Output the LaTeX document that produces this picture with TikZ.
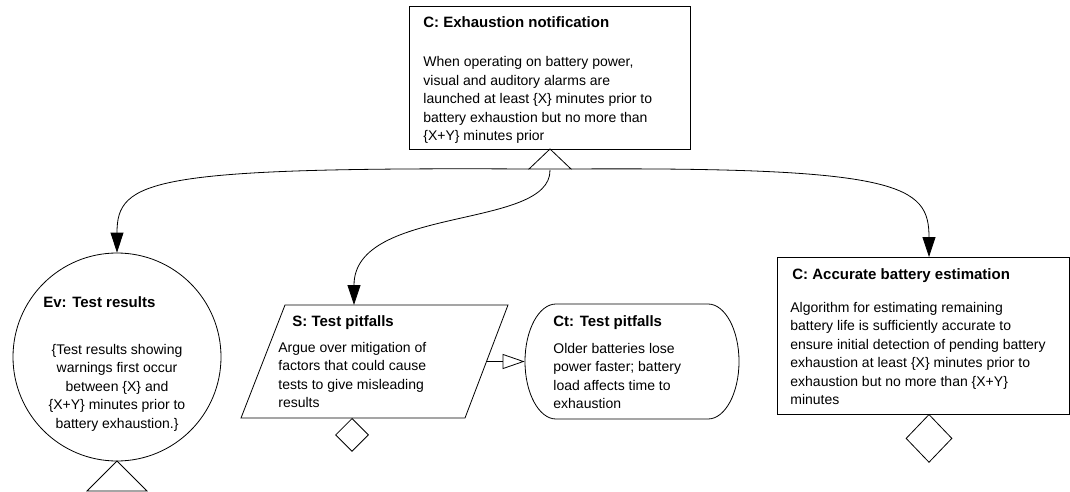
\documentclass[tikz,border=0pt]{standalone}
\usepackage{fontspec}
\setmainfont{Liberation Sans}
\usetikzlibrary{arrows.meta,shapes.geometric}
\newcommand\mlines[2]{\begin{tabular}[t]{@{}#1@{}}#2\end{tabular}}
\begin{document}
\begin{tikzpicture}[x=1pt,y=-1pt,line width=0.8pt,
  ttl/.style={anchor=base west,inner sep=0pt,font=\fontsize{15}{18}\selectfont\bfseries},
  bdy/.style={anchor=base west,inner sep=0pt,font=\fontsize{14}{18.5}\selectfont},
  bdyc/.style={anchor=base,inner sep=0pt,font=\fontsize{14}{18.5}\selectfont},
  boxed/.style={draw,rectangle,inner sep=0pt},
  arr/.style={-{Triangle[length=20pt,width=13pt]}},
  openarr/.style={-{Triangle[open,fill=white,length=22pt,width=15pt]}},
  dia/.style={draw,diamond,inner sep=0pt}]
\useasboundingbox (0,0) rectangle (1070,492);
% top goal
\node[boxed,minimum width=281pt,minimum height=143pt] (c1) at (549.5,77.5) {};
\node[ttl] (c1t) at (423,28) {C: Exhaustion notification};
\node[bdy] (c1b) at (423,67) {\mlines{l}{When operating on battery power,\\visual and auditory alarms are\\launched at least \{X\} minutes prior to\\battery exhaustion but no more than\\\{X+Y\} minutes prior}};
% triangle under top
\coordinate (ta) at (550,149);
\coordinate (tl) at (529,169);
\coordinate (tr) at (571,169);
\coordinate (tb) at (550,170);
\draw (ta) -- (tl) -- (tr) -- cycle;
% evidence circle
\node[draw,circle,minimum size=208pt,inner sep=0pt] (ev) at (117,357) {};
\node[ttl] (evt) at (43,307) {Ev: Test results};
\node[bdyc] (evb) at (117,354) {\mlines{c}{\{Test results showing\\warnings first occur\\between \{X\} and\\\{X+Y\} minutes prior to\\battery exhaustion.\}}};
\coordinate (eva) at (117,461);
\draw (eva) -- (87,491) -- (147,491) -- cycle;
% strategy
\coordinate (sT) at (354,305);
\coordinate (sR) at (486.5,361.5);
\coordinate (sB) at (352,418);
\draw (285,305) -- (508,305) -- (465,418) -- (241,418) -- cycle;
\node[ttl] (st) at (292,326) {S: Test pitfalls};
\node[bdy] (sb) at (278,352) {\mlines{l}{Argue over mitigation of\\factors that could cause\\tests to give misleading\\results}};
\node[dia,minimum width=33pt,minimum height=33pt,anchor=north] (sd) at (sB) {};
% context
\node[minimum width=214pt,minimum height=115pt,inner sep=0pt] (ct) at (632,361.5) {};
\draw (556,304) -- (708,304) .. controls (725,304) and (739,329.7) .. (739,361.5)
  .. controls (739,393.3) and (725,419) .. (708,419) -- (556,419)
  .. controls (539,419) and (525,393.3) .. (525,361.5)
  .. controls (525,329.7) and (539,304) .. cycle;
\node[ttl] (ctt) at (553,326) {Ct: Test pitfalls};
\node[bdy] (ctb) at (553,353) {\mlines{l}{Older batteries lose\\power faster; battery\\load affects time to\\exhaustion}};
% right goal
\node[boxed,minimum width=292pt,minimum height=157pt] (c2) at (923,335.5) {};
\coordinate (c2T) at (929,257);
\node[ttl] (c2t) at (792,279) {C: Accurate battery estimation};
\node[bdy] (c2b) at (790,312) {\mlines{l}{Algorithm for estimating remaining\\battery life is sufficiently accurate to\\ensure initial detection of pending battery\\exhaustion at least \{X\} minutes prior to\\exhaustion but no more than \{X+Y\}\\minutes}};
\node[dia,minimum width=46pt,minimum height=48pt,anchor=north] (c2d) at (929,414) {};
% connectors
\draw[arr] (tl) .. controls (150,167) and (117,180) .. (ev.north);
\draw[arr] (tb) .. controls (551,230) and (354,205) .. (sT);
\draw[arr] (tr) .. controls (900,167) and (929,185) .. (c2T);
\draw[openarr] (sR) -- (ct.west);
\end{tikzpicture}
\end{document}
